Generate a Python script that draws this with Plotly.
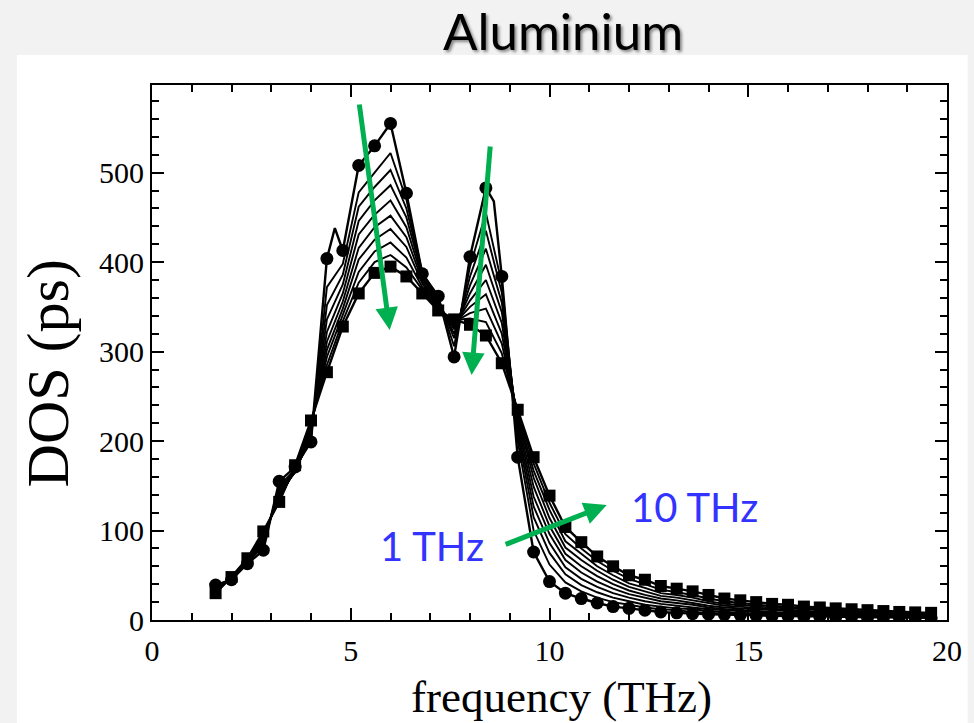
import plotly.graph_objects as go

# ---------------- data ----------------
freq = [1.6, 2.0, 2.4, 2.8, 3.2, 3.6, 4.0, 4.4, 4.8, 5.2, 5.6, 6.0, 6.4, 6.8, 7.2, 7.6,
        8.0, 8.4, 8.8, 9.2, 9.6, 10.0, 10.4, 10.8, 11.2, 11.6, 12.0, 12.4, 12.8, 13.2,
        13.6, 14.0, 14.4, 14.8, 15.2, 15.6, 16.0, 16.4, 16.8, 17.2, 17.6, 18.0, 18.4,
        18.8, 19.2, 19.6]

dos_1thz = [39, 45, 63, 78, 155, 171, 199, 404, 413, 508, 530, 555, 477, 387, 362, 294,
            406, 483, 384, 182, 76, 43, 30, 24, 19, 15, 13, 11, 9, 8, 7, 6.5, 6, 5.5, 5,
            4.5, 4.5, 4, 4, 3.5, 3.5, 3, 3, 3, 2.5, 2.5]
# unmarked intermediate points of the 1 THz line
extra_freq_1thz = [4.6, 8.6]
extra_dos_1thz = [438, 468]

dos_2thz = [38, 45, 64, 83, 150, 168, 203, 372, 398, 478, 500, 522, 470, 388, 360, 306,
            395, 455, 376, 200, 100, 62, 42, 32, 25, 20, 17, 14, 12, 11, 9, 8, 7, 7, 6,
            5.5, 5, 5, 5, 4.5, 4, 4, 3.5, 3.5, 3, 3]
dos_3thz = [37, 46, 65, 86, 147, 166, 206, 352, 386, 462, 484, 503, 460, 387, 358, 315,
            384, 435, 366, 208, 115, 75, 51, 39, 31, 25, 21, 17, 15, 13, 12, 10, 9, 8, 7,
            7, 6, 6, 5.5, 5, 5, 4.5, 4, 4, 3.5, 3.5]
dos_4thz = [36, 46, 65, 88, 145, 165, 209, 336, 375, 446, 469, 486, 450, 385, 356, 320,
            374, 415, 355, 214, 127, 86, 59, 46, 37, 30, 25, 21, 18, 16, 14, 12, 11, 10, 9,
            8, 7, 7, 6, 6, 5.5, 5, 5, 4.5, 4, 4]
dos_5thz = [35, 47, 66, 90, 142, 165, 212, 322, 365, 431, 453, 469, 439, 382, 354, 325,
            365, 397, 344, 219, 138, 96, 67, 53, 43, 35, 29, 25, 21, 19, 17, 14, 12, 11, 10,
            9, 8, 8, 7, 7, 6, 6, 5.5, 5, 4.5, 4.5]
dos_6thz = [34, 47, 67, 92, 140, 166, 214, 311, 356, 416, 439, 452, 428, 379, 352, 328,
            357, 380, 332, 223, 149, 105, 74, 60, 49, 40, 33, 28, 24, 22, 19, 16, 14, 13, 12,
            11, 10, 9, 8, 8, 7, 6.5, 6, 5.5, 5, 5]
dos_7thz = [33, 47, 67, 94, 138, 167, 216, 302, 348, 403, 425, 437, 417, 376, 350, 331,
            350, 364, 320, 227, 159, 114, 81, 67, 55, 45, 37, 32, 27, 25, 22, 19, 16, 15, 13,
            12, 11, 10, 9, 9, 8, 7, 7, 6, 6, 5.5]
dos_8thz = [32, 48, 68, 96, 136, 168, 218, 294, 341, 389, 412, 422, 405, 372, 349, 333,
            343, 348, 309, 230, 167, 123, 88, 74, 60, 50, 41, 36, 30, 28, 25, 21, 18, 17, 15,
            14, 13, 12, 11, 10, 9, 8, 8, 7, 6.5, 6]
dos_9thz = [31, 48, 68, 97, 134, 170, 221, 285, 334, 377, 400, 408, 394, 369, 347, 335,
            337, 333, 298, 233, 175, 131, 96, 80, 66, 55, 46, 40, 34, 31, 28, 24, 21, 19, 17,
            16, 15, 13, 12, 11, 10, 9.5, 9, 8, 7.5, 7]
dos_10thz = [30, 48, 69, 99, 132, 173, 223, 277, 328, 365, 388, 395, 384, 365, 346, 336,
             330, 318, 287, 235, 182, 139, 104, 87, 71, 60, 50, 45, 38, 35, 32, 28, 24, 22,
             20, 18, 17, 15, 14, 13, 12, 11, 10, 9, 8.5, 8]

intermediate = [dos_2thz, dos_3thz, dos_4thz, dos_5thz, dos_6thz, dos_7thz, dos_8thz, dos_9thz]

x_ticks = [0, 5, 10, 15, 20]
y_ticks = [0, 100, 200, 300, 400, 500]

# ---------------- figure ----------------
W, H = 974, 723
L, R, T, B = 152, 16, 85, 103
XR = [0, 20]
YR = [0, 598]
pw, ph = W - L - R, H - T - B


def px_paper_x(px):
    return (px - L) / pw


def px_paper_y(py):
    return (H - B - py) / ph


def px_data_x(px):
    return XR[0] + (px - L) / pw * (XR[1] - XR[0])


def px_data_y(py):
    return YR[0] + (H - B - py) / ph * (YR[1] - YR[0])


fig = go.Figure()

for ys in intermediate:
    fig.add_trace(go.Scatter(x=freq, y=ys, mode="lines",
                             line=dict(color="black", width=1.9),
                             hoverinfo="skip", showlegend=False))

# 1 THz line (with unmarked points) and markers
pts = sorted(list(zip(freq, dos_1thz)) + list(zip(extra_freq_1thz, extra_dos_1thz)))
fig.add_trace(go.Scatter(x=[p[0] for p in pts], y=[p[1] for p in pts], mode="lines",
                         line=dict(color="black", width=2.4), showlegend=False))
fig.add_trace(go.Scatter(x=freq, y=dos_1thz, mode="markers",
                         marker=dict(symbol="circle", size=13, color="black"),
                         showlegend=False))
# 10 THz
fig.add_trace(go.Scatter(x=freq, y=dos_10thz, mode="lines+markers",
                         line=dict(color="black", width=2.4),
                         marker=dict(symbol="square", size=12, color="black"),
                         showlegend=False))

serif = "Liberation Serif, Times New Roman, serif"
sans = "Lato, Carlito, Calibri, sans-serif"
green = "#00b050"
blue = "#3333ff"

axis_common = dict(showline=True, linecolor="black", linewidth=2.2, mirror="ticks",
                   ticks="inside", ticklen=12, tickwidth=2, tickcolor="black",
                   showgrid=False, zeroline=False, ticklabeloverflow="allow",
                   tickfont=dict(family=serif, size=30, color="black"))

fig.update_xaxes(range=XR, tickvals=x_ticks, ticktext=[str(v) for v in x_ticks],
                 ticklabelstandoff=3,
                 minor=dict(ticks="inside", ticklen=7, tickwidth=2, tickcolor="black", dtick=1),
                 **axis_common)
fig.update_yaxes(range=YR, tickvals=y_ticks, ticktext=[str(v) for v in y_ticks],
                 minor=dict(ticks="inside", ticklen=7, tickwidth=2, tickcolor="black", dtick=20),
                 **axis_common)

shapes = [dict(type="rect", xref="paper", yref="paper", layer="below",
               x0=px_paper_x(15), x1=px_paper_x(W + 5),
               y0=px_paper_y(H + 5), y1=px_paper_y(55),
               fillcolor="white", line=dict(width=0))]

annotations = [
    dict(text="Aluminium", xref="paper", yref="paper", x=px_paper_x(569), y=px_paper_y(30),
         showarrow=False, xanchor="center", yanchor="middle",
         font=dict(family=sans, size=51, color="black",
                   shadow="2px 2px 3px rgba(0,0,0,0.45)")),
    dict(text="frequency (THz)", xref="paper", yref="paper", x=px_paper_x(567),
         y=px_paper_y(697), showarrow=False, xanchor="center", yanchor="middle",
         font=dict(family=serif, size=45, color="black")),
    dict(text="DOS (ps)", xref="paper", yref="paper", x=px_paper_x(47),
         y=px_paper_y(373), showarrow=False, xanchor="center", yanchor="middle",
         textangle=-90, font=dict(family=serif, size=60, color="black")),
    dict(text="1 THz", xref="paper", yref="paper", x=px_paper_x(436), y=px_paper_y(546),
         showarrow=False, xanchor="center", yanchor="middle",
         font=dict(family=sans, size=40, color=blue)),
    dict(text="10 THz", xref="paper", yref="paper", x=px_paper_x(702), y=px_paper_y(507),
         showarrow=False, xanchor="center", yanchor="middle",
         font=dict(family=sans, size=40, color=blue)),
]

arrows = [((362, 103), (393, 330)), ((495, 145), (476, 375)), ((509, 545), (613, 505))]
for (tx, ty), (hx, hy) in arrows:
    annotations.append(dict(
        x=px_data_x(hx), y=px_data_y(hy), ax=px_data_x(tx), ay=px_data_y(ty),
        xref="x", yref="y", axref="x", ayref="y", text="", showarrow=True,
        arrowhead=2, arrowsize=0.9, arrowwidth=5, arrowcolor=green, standoff=0))

fig.update_layout(width=W, height=H, margin=dict(l=L, r=R, t=T, b=B),
                  paper_bgcolor="#f2f2f2", plot_bgcolor="white",
                  shapes=shapes, annotations=annotations, showlegend=False)

fig.write_html("out.html")
